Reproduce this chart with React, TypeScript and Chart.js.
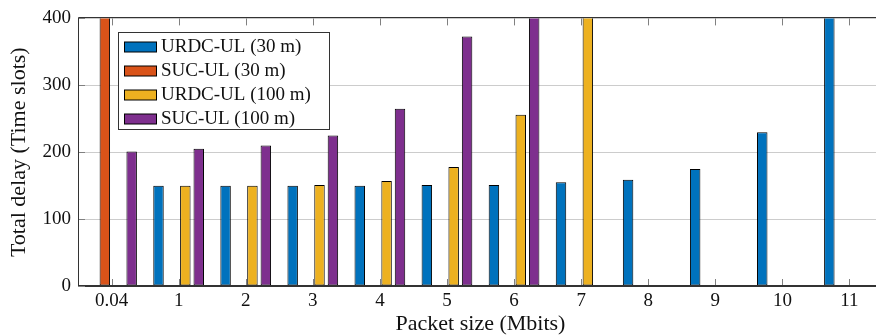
import React, { useEffect, useRef } from 'react';
import { Chart, registerables } from 'chart.js';

Chart.register(...registerables);

const categories = ['0.04', '1', '2', '3', '4', '5', '6', '7', '8', '9', '10', '11'];
const seriesNames = ['URDC-UL (30 m)', 'SUC-UL (30 m)', 'URDC-UL (100 m)', 'SUC-UL (100 m)'];
const seriesColors = ['#0072BD', '#D95319', '#EDB120', '#7E2F8E'];

// Values above 400 run off the top of the axis in the reference (clipped).
const urdcUl30 = [null, 150, 150, 150, 150, 151, 151, 155, 159, 175, 230, 500];
const sucUl30 = [500, null, null, null, null, null, null, null, null, null, null, null];
const urdcUl100 = [null, 150, 150, 151, 157, 178, 256, 500, null, null, null, null];
const sucUl100 = [201, 205, 210, 225, 265, 373, 500, null, null, null, null, null];

const yTicks = [0, 100, 200, 300, 400];

const FONT = "'Liberation Serif', 'DejaVu Serif', serif";

const framePlugin = {
  id: 'frameTicks',
  afterDatasetsDraw(chart: any) {
    const { ctx, chartArea: a, scales } = chart;
    const xs = scales.x;
    const ys = scales.y;
    ctx.save();
    ctx.lineWidth = 1;
    ctx.strokeStyle = '#808080';
    ctx.beginPath();
    for (let i = 0; i < categories.length; i++) {
      const px = Math.round(xs.getPixelForTick(i)) + 0.5;
      ctx.moveTo(px, a.bottom);
      ctx.lineTo(px, a.bottom - 7);
      ctx.moveTo(px, a.top);
      ctx.lineTo(px, a.top + 7);
    }
    for (const v of yTicks) {
      const py = Math.round(ys.getPixelForValue(v)) + 0.5;
      ctx.moveTo(a.left, py);
      ctx.lineTo(a.left + 7, py);
      ctx.moveTo(a.right, py);
      ctx.lineTo(a.right - 7, py);
    }
    ctx.stroke();
    ctx.strokeStyle = '#333333';
    ctx.beginPath();
    ctx.rect(Math.round(a.left) + 0.5, Math.round(a.top) - 0.5, Math.round(a.right - a.left), Math.round(a.bottom - a.top));
    ctx.stroke();
    ctx.restore();
  },
  afterDraw(chart: any) {
    const { ctx } = chart;
    ctx.save();
    const bx = 118.5, by = 32.5, bw = 211, bh = 97;
    ctx.fillStyle = '#ffffff';
    ctx.fillRect(bx, by, bw, bh);
    ctx.strokeStyle = '#333333';
    ctx.lineWidth = 1;
    ctx.strokeRect(bx, by, bw, bh);
    ctx.font = `19px ${FONT}`;
    ctx.textBaseline = 'middle';
    ctx.textAlign = 'left';
    chart.data.datasets.forEach((ds: any, i: number) => {
      const cy = 47 + i * 24;
      ctx.fillStyle = ds.backgroundColor;
      ctx.fillRect(124.5, cy - 5, 32, 10);
      ctx.strokeStyle = '#000000';
      ctx.strokeRect(124.5, cy - 5, 32, 10);
      ctx.fillStyle = '#111111';
      ctx.fillText(ds.label, 161, cy + 0.5);
    });
    ctx.restore();
  },
};

export default function App() {
  const ref = useRef<HTMLCanvasElement | null>(null);

  useEffect(() => {
    if (!ref.current) return;
    const series = [urdcUl30, sucUl30, urdcUl100, sucUl100];
    const chart = new Chart(ref.current, {
      type: 'bar',
      data: {
        labels: categories,
        datasets: series.map((d, i) => ({
          label: seriesNames[i],
          data: d,
          backgroundColor: seriesColors[i],
          borderColor: '#000000',
          borderWidth: 1,
          borderSkipped: false,
          barPercentage: 0.78,
          categoryPercentage: 0.8,
        })),
      },
      options: {
        responsive: false,
        animation: false,
        events: [],
        layout: { padding: { left: 0, top: 17, right: 7, bottom: 0 } },
        plugins: {
          legend: { display: false },
          tooltip: { enabled: false },
        },
        scales: {
          x: {
            type: 'category',
            grid: { display: false, drawTicks: false },
            border: { display: true, color: '#333333' },
            ticks: {
              color: '#111111',
              font: { family: FONT, size: 19 },
              padding: 4,
              maxRotation: 0,
              autoSkip: false,
            },
            title: {
              display: true,
              text: 'Packet size (Mbits)',
              color: '#111111',
              font: { family: FONT, size: 22, lineHeight: 1 },
              padding: { top: 0, bottom: 0 },
            },
            afterFit: (s: any) => {
              s.height = 49;
            },
          },
          y: {
            min: 0,
            max: 400,
            ticks: {
              stepSize: 100,
              color: '#111111',
              font: { family: FONT, size: 19 },
              padding: 7,
            },
            grid: { color: '#cccccc', lineWidth: 1, drawTicks: false },
            border: { display: true, color: '#333333' },
            title: {
              display: true,
              text: 'Total delay (Time slots)',
              color: '#111111',
              font: { family: FONT, size: 22, lineHeight: 1.2 },
              padding: { top: 6, bottom: 0 },
            },
            afterFit: (s: any) => {
              s.width = 78;
            },
          },
        },
      },
      plugins: [framePlugin],
    });
    return () => chart.destroy();
  }, []);

  return (
    <div style={{ position: 'fixed', left: 0, top: 0, width: 876, height: 335, overflow: 'hidden', background: '#ffffff' }}>
      <canvas ref={ref} width={890} height={335} style={{ display: 'block' }} />
    </div>
  );
}
